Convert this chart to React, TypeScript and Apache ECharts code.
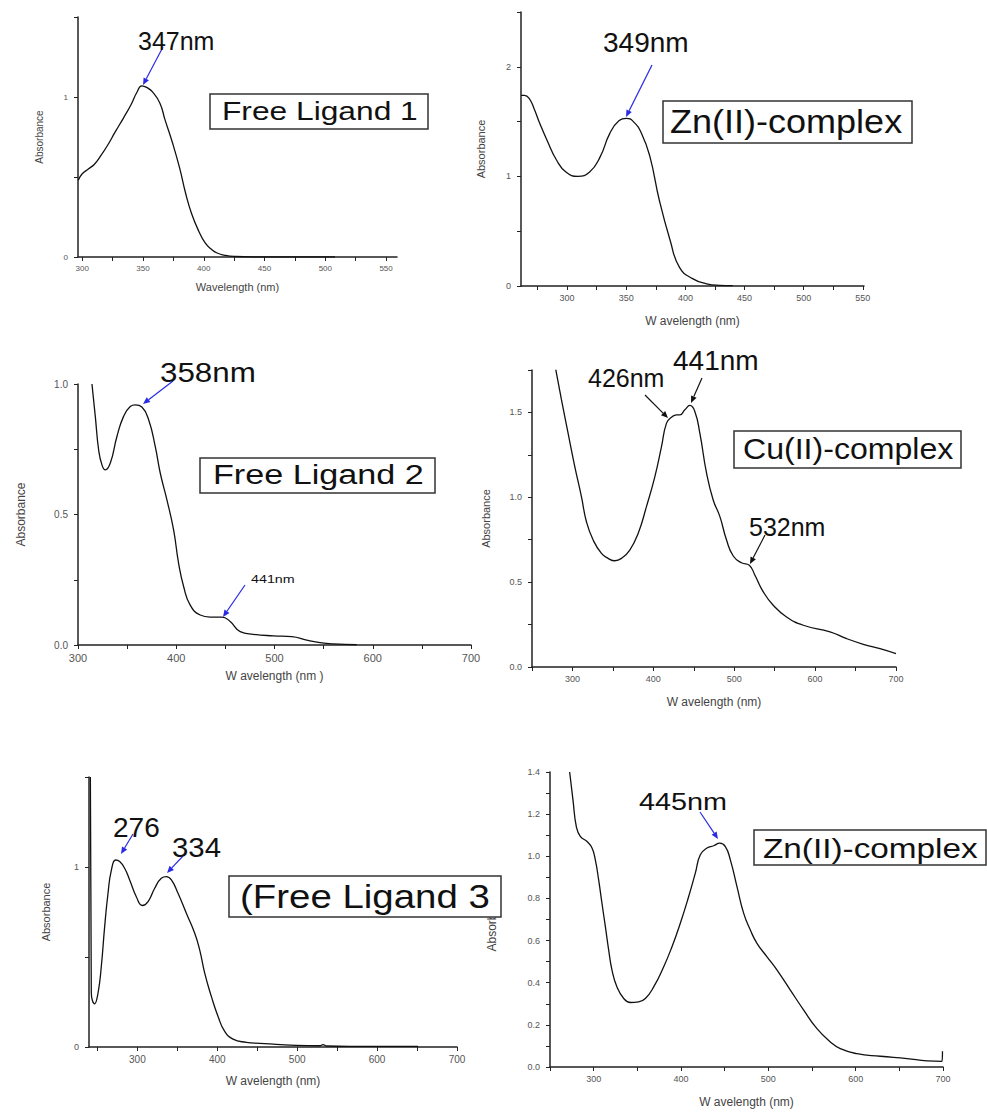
import React, { useEffect, useRef } from "react";
import * as echarts from "echarts";

// ---------- DATA ----------
// Panel 1: Free Ligand 1
const wl1 = [296.7, 300, 305, 310, 315, 321, 327, 334, 340, 345, 349, 353, 358, 364, 368, 374, 380, 385, 390, 396, 401, 406, 411, 418, 426, 440, 470, 508];
const ab1 = [0.48, 0.52, 0.55, 0.58, 0.63, 0.70, 0.78, 0.87, 0.95, 1.03, 1.07, 1.06, 1.03, 0.96, 0.86, 0.72, 0.56, 0.40, 0.27, 0.16, 0.09, 0.05, 0.025, 0.01, 0.003, 0.0, 0.0, 0.0];
// Panel 2: Zn(II)-complex
const wl2 = [261, 264, 268, 272, 277, 283, 291, 299, 309, 319, 328, 336, 344, 350, 356, 363, 370, 378, 387, 395, 406, 418, 429, 440];
const ab2 = [1.74, 1.74, 1.71, 1.62, 1.48, 1.33, 1.15, 1.04, 1.0, 1.04, 1.18, 1.39, 1.51, 1.53, 1.50, 1.39, 1.18, 0.78, 0.42, 0.17, 0.067, 0.02, 0.006, 0.003];
// Panel 3: Free Ligand 2
const wl3 = [314.2, 317.6, 321, 324.4, 327.8, 332.9, 339.7, 346.4, 353.2, 358.3, 365, 371.9, 378.6, 383.7, 390.5, 397.3, 402.4, 407.5, 414.2, 424.4, 434.6, 446.4, 454.9, 465.1, 478.6, 499, 517.6, 532.9, 546.4, 560, 583.7];
const ab3 = [1.0, 0.876, 0.748, 0.69, 0.671, 0.697, 0.8, 0.876, 0.914, 0.92, 0.912, 0.863, 0.761, 0.659, 0.556, 0.441, 0.313, 0.224, 0.153, 0.115, 0.107, 0.107, 0.09, 0.051, 0.041, 0.035, 0.032, 0.019, 0.009, 0.004, 0.001];
// Panel 4: Cu(II)-complex
const wl4 = [279.4, 286.4, 294.6, 302.9, 311.1, 317.3, 325.6, 335.9, 344.1, 352.4, 360.6, 370.9, 381.2, 391.5, 401.9, 410.1, 416.3, 422.5, 428.7, 432.8, 439, 445.2, 451.3, 457.5, 465.8, 474, 482.3, 490.5, 498.8, 509.1, 518.6, 525.6, 535.9, 548.2, 564.7, 585.4, 618.4, 639, 659.6, 680.2, 700];
const ab4 = [1.752, 1.575, 1.378, 1.181, 1.004, 0.856, 0.748, 0.669, 0.64, 0.626, 0.64, 0.689, 0.787, 0.945, 1.122, 1.299, 1.437, 1.472, 1.486, 1.486, 1.516, 1.541, 1.506, 1.378, 1.142, 0.984, 0.886, 0.748, 0.654, 0.614, 0.6, 0.541, 0.443, 0.364, 0.295, 0.246, 0.207, 0.167, 0.134, 0.108, 0.079];
// Panel 5: Free Ligand 3 (first point = the vertical spike at the axis)
const wl5 = [241.2, 242.4, 246.6, 250.8, 254.9, 259.1, 263.3, 267.5, 272.9, 277.9, 284.1, 290.4, 298.7, 306.3, 313.4, 321.7, 330, 336.3, 342.6, 350.9, 361.3, 371.8, 378, 384.3, 392.6, 401, 409.3, 419.7, 436.4, 453.1, 474, 499, 528.2, 532.4, 536.5, 565.7, 607.5, 651.3];
const ab5 = [1.5, 0.30, 0.24, 0.30, 0.447, 0.669, 0.854, 0.983, 1.039, 1.03, 0.993, 0.928, 0.835, 0.786, 0.808, 0.882, 0.937, 0.946, 0.928, 0.854, 0.743, 0.632, 0.54, 0.41, 0.281, 0.17, 0.087, 0.044, 0.026, 0.02, 0.015, 0.009, 0.007, 0.013, 0.0055, 0.004, 0.004, 0.004];
// Panel 6: Zn(II)-complex
const wl6 = [272.5, 276.3, 280.2, 284.7, 292.4, 298.1, 301.9, 305.7, 309.5, 313.4, 317.2, 321, 326.7, 334.4, 342, 351.5, 359.2, 368.7, 380.2, 389.7, 399.2, 408.8, 416.4, 422.1, 429.8, 437.4, 444.3, 450.8, 456.5, 464.1, 471.8, 479.4, 487, 498.5, 510, 525.2, 540.5, 555.7, 571, 582.4, 601.5, 628.2, 658.8, 681.7, 698.9, 699.4];
const ab6 = [1.4, 1.268, 1.14, 1.094, 1.07, 1.039, 0.983, 0.888, 0.777, 0.666, 0.555, 0.46, 0.38, 0.325, 0.306, 0.309, 0.325, 0.38, 0.476, 0.571, 0.682, 0.809, 0.92, 1.007, 1.039, 1.05, 1.062, 1.046, 0.983, 0.856, 0.729, 0.65, 0.587, 0.523, 0.46, 0.365, 0.27, 0.182, 0.119, 0.087, 0.063, 0.051, 0.04, 0.029, 0.027, 0.075];

// Tick values / labels
const xTicks1 = [300, 325, 350, 375, 400, 425, 450, 475, 500, 525, 550];
const xLabels1 = [300, 350, 400, 450, 500, 550];
const xTicks2 = [275, 300, 325, 350, 375, 400, 425, 450, 475, 500, 525, 550];
const xLabels2 = [300, 350, 400, 450, 500, 550];
const xTicks3 = [300, 350, 400, 450, 500, 550, 600, 650, 700];
const xLabels3 = [300, 400, 500, 600, 700];
const xTicks456 = [250, 300, 350, 400, 450, 500, 550, 600, 650, 700];
const xLabels456 = [300, 400, 500, 600, 700];
const yTicks1 = [0, 0.5, 1, 1.5];
const yLabels1 = [0, 1];
const yTicks2 = [0, 0.5, 1, 1.5, 2, 2.5];
const yLabels2 = [0, 1, 2];
const yTicks3 = [0, 0.25, 0.5, 0.75, 1];
const yLabels3 = [0, 0.5, 1];
const yTicks4 = [0, 0.25, 0.5, 0.75, 1, 1.25, 1.5, 1.75];
const yLabels4 = [0, 0.5, 1, 1.5];
const yTicks5 = [0, 0.5, 1, 1.5];
const yLabels5 = [0, 1];
const yTicks6 = [0, 0.1, 0.2, 0.3, 0.4, 0.5, 0.6, 0.7, 0.8, 0.9, 1.0, 1.1, 1.2, 1.3, 1.4];
const yLabels6 = [0, 0.2, 0.4, 0.6, 0.8, 1.0, 1.2, 1.4];

const FONT = "'Liberation Sans', Arial, sans-serif";
const BLUE = "#2a2ae6";

function zip(a: number[], b: number[]) {
  return a.map((v, i) => [v, b[i]]);
}

function xAxis(gi: number, min: number, max: number, ticks: number[], labels: number[], fs: number, name: string, gap: number, nfs: number) {
  return {
    type: "value", gridIndex: gi, min, max,
    name, nameLocation: "middle", nameGap: gap,
    nameTextStyle: { fontSize: nfs, color: "#444", fontFamily: FONT },
    splitLine: { show: false },
    axisLine: { show: true, onZero: false, lineStyle: { color: "#222", width: 1.5 } },
    axisTick: { show: true, length: 4, customValues: ticks, lineStyle: { color: "#222", width: 1 } },
    axisLabel: { customValues: labels, fontSize: fs, color: "#555", fontFamily: FONT, margin: 7 },
  };
}

function yAxis(gi: number, min: number, max: number, ticks: number[], labels: number[], fs: number, dec: number, gap: number, nfs: number) {
  return {
    type: "value", gridIndex: gi, min, max,
    name: "Absorbance", nameLocation: "middle", nameGap: gap,
    nameTextStyle: { fontSize: nfs, color: "#444", fontFamily: FONT },
    splitLine: { show: false },
    axisLine: { show: true, onZero: false, lineStyle: { color: "#222", width: 1.5 } },
    axisTick: { show: true, length: 4, customValues: ticks, lineStyle: { color: "#222", width: 1 } },
    axisLabel: {
      customValues: labels, fontSize: fs, color: "#555", fontFamily: FONT, margin: 10,
      formatter: (v: number) => v.toFixed(dec),
    },
  };
}

function series(i: number, data: number[][]) {
  return {
    type: "line", xAxisIndex: i, yAxisIndex: i, data,
    showSymbol: false, smooth: 0.5, clip: true,
    lineStyle: { color: "#111", width: 1.3 },
    silent: true,
  };
}

function arrow(x1: number, y1: number, x2: number, y2: number, color: string) {
  const dx = x2 - x1, dy = y2 - y1;
  const len = Math.hypot(dx, dy);
  const ux = dx / len, uy = dy / len;
  const head = 7, w = 3;
  const bx = x2 - ux * head, by = y2 - uy * head;
  return [
    { type: "line", z: 100, shape: { x1, y1, x2: bx, y2: by }, style: { stroke: color, lineWidth: 1.2 } },
    {
      type: "polygon", z: 100,
      shape: { points: [[x2, y2], [bx - uy * w, by + ux * w], [bx + uy * w, by - ux * w]] },
      style: { fill: color },
    },
  ];
}

function label(text: string, x: number, y: number, fontSize: number, scaleX = 1) {
  return {
    type: "text", z: 110, x, y, scaleX,
    style: {
      text, fontSize, fontFamily: FONT, fill: "#111",
      align: "left", textAlign: "left", verticalAlign: "middle", textVerticalAlign: "middle",
    },
  };
}

function box(x: number, y: number, w: number, h: number) {
  return {
    type: "rect", z: 105, shape: { x, y, width: w, height: h },
    style: { fill: "#fff", stroke: "#333", lineWidth: 1.5 },
  };
}

export default function App() {
  const ref = useRef<HTMLDivElement>(null);

  useEffect(() => {
    if (!ref.current) return;
    const chart = echarts.init(ref.current, undefined, { renderer: "svg" });

    const graphic: any[] = [
      // Panel 1
      box(210, 94, 218, 35), label("Free Ligand 1", 222, 111, 26, 1.22),
      label("347nm", 138, 41, 25), ...arrow(163, 47, 143, 85, BLUE),
      // Panel 2
      box(663, 101, 249, 42), label("Zn(II)-complex", 670, 121, 34, 1.06),
      label("349nm", 603, 42, 28), ...arrow(652, 65, 626, 117, BLUE),
      // Panel 3
      box(200, 458, 235, 35), label("Free Ligand 2", 213, 475, 28, 1.22),
      label("358nm", 160, 372, 28, 1.12), ...arrow(173, 381, 143, 404, BLUE),
      label("441nm", 251, 579, 11, 1.3), ...arrow(245, 585, 223, 617, BLUE),
      // Panel 4
      box(734, 431, 227, 37), label("Cu(II)-complex", 743, 449, 30, 1.07),
      label("426nm", 588, 377.5, 25), ...arrow(645, 395, 668, 418, "#111"),
      label("441nm", 673, 360, 28), ...arrow(702, 378, 691, 403, "#111"),
      label("532nm", 749, 527, 25), ...arrow(765, 535, 750, 564, "#111"),
      // Panel 5
      box(229, 876, 272, 41), label("(Free Ligand 3", 240, 896, 34, 1.13),
      label("276", 113, 827, 28), ...arrow(133, 834, 121, 854, BLUE),
      label("334", 172, 847, 28, 1.05), ...arrow(183, 856, 167, 873, BLUE),
      // Panel 6
      box(754, 830, 232, 35), label("Zn(II)-complex", 763, 848, 28, 1.19),
      label("445nm", 639, 802, 24, 1.2), ...arrow(700, 812, 718, 839, BLUE),
    ];

    chart.setOption({
      animation: false,
      backgroundColor: "#fff",
      grid: [
        { left: 78, top: 17, width: 319, height: 240 },
        { left: 521, top: 12, width: 343, height: 274 },
        { left: 78, top: 384, width: 393, height: 261 },
        { left: 532, top: 370, width: 364, height: 297 },
        { left: 89, top: 777, width: 368, height: 270 },
        { left: 550, top: 772, width: 393, height: 295 },
      ],
      xAxis: [
        xAxis(0, 296.5, 559, xTicks1, xLabels1, 8, "Wavelength (nm)", 24, 11),
        xAxis(1, 261, 551, xTicks2, xLabels2, 9, "W avelength (nm)", 29, 12),
        xAxis(2, 300, 700, xTicks3, xLabels3, 11, "W avelength (nm )", 25, 12),
        xAxis(3, 250, 700, xTicks456, xLabels456, 9, "W avelength (nm)", 29, 12),
        xAxis(4, 239.5, 700, xTicks456, xLabels456, 10, "W avelength (nm)", 28, 12),
        xAxis(5, 250, 700, xTicks456, xLabels456, 9, "W avelength (nm)", 29, 12),
      ],
      yAxis: [
        yAxis(0, 0, 1.5, yTicks1, yLabels1, 8, 0, 34, 10),
        yAxis(1, 0, 2.5, yTicks2, yLabels2, 9, 0, 35, 11),
        yAxis(2, 0, 1.0, yTicks3, yLabels3, 10, 1, 51, 12),
        yAxis(3, 0, 1.75, yTicks4, yLabels4, 9, 1, 41, 11),
        yAxis(4, 0, 1.5, yTicks5, yLabels5, 9, 0, 38, 11),
        yAxis(5, 0, 1.4, yTicks6, yLabels6, 9, 1, 52, 12),
      ],
      series: [
        series(0, zip(wl1, ab1)),
        series(1, zip(wl2, ab2)),
        series(2, zip(wl3, ab3)),
        series(3, zip(wl4, ab4)),
        series(4, zip(wl5, ab5)),
        series(5, zip(wl6, ab6)),
      ],
      graphic,
    });

    return () => chart.dispose();
  }, []);

  return (
    <div
      ref={ref}
      style={{ position: "fixed", left: 0, top: 0, width: 987, height: 1115, background: "#fff" }}
    />
  );
}
